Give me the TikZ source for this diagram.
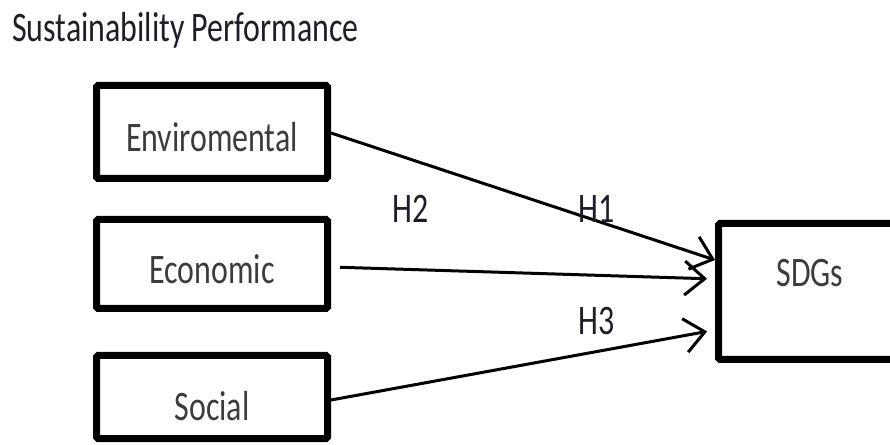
\documentclass[tikz,border=0pt]{standalone}
\usepackage{fontspec}
\setmainfont{Carlito}
\newfontfamily\calnarrow[FakeStretch=0.76]{Carlito}
\usetikzlibrary{arrows.meta}
\definecolor{boxtext}{HTML}{3C3C3C}
\definecolor{titletext}{HTML}{1E1E28}
\tikzset{
  x=1pt, y=1pt,
  txt/.style={font=\calnarrow\fontsize{42}{48}\selectfont},
  varbox/.style={draw=black, line width=7pt, rounded corners=1.5pt, fill=white,
    minimum width=231pt, inner sep=0pt, txt, text=boxtext,
    text height=40pt, text depth=0pt},
  hlabel/.style={txt, text=titletext, anchor=base west, inner sep=0pt},
  conn/.style={line width=3pt, -{Straight Barb[length=20pt, width=34pt, line width=3pt]}}
}
\begin{document}
\begin{tikzpicture}
\clip (0,0) rectangle (890,444);
\fill[white] (0,0) rectangle (890,444);
\node[txt, text=titletext, anchor=base west, inner sep=0pt] (title) at (12,402) {Sustainability Performance};
\node[varbox, minimum height=93pt] (env) at (212,312) {Enviromental};
\node[varbox, minimum height=89pt] (eco) at (212,180) {Economic};
\node[varbox, minimum height=83pt, text height=46pt] (soc) at (212,47) {Social};
\node[varbox, minimum width=183pt, minimum height=136pt, text height=0pt, text depth=9pt] (sdg) at (810,152.5) {SDGs};
\draw[conn] ([yshift=-1pt]env.east) -- ([yshift=31.5pt]sdg.west);
\draw[conn, shorten <=9pt, shorten >=8pt] ([yshift=-3pt]eco.east) -- ([yshift=12.5pt]sdg.west);
\draw[conn, shorten >=8pt] ([yshift=-3pt]soc.east) -- ([yshift=-38.5pt]sdg.west);
\node[hlabel] (h2) at (392,221) {H2};
\node[hlabel] (h1) at (578,221) {H1};
\node[hlabel] (h3) at (578,109) {H3};
\end{tikzpicture}
\end{document}
